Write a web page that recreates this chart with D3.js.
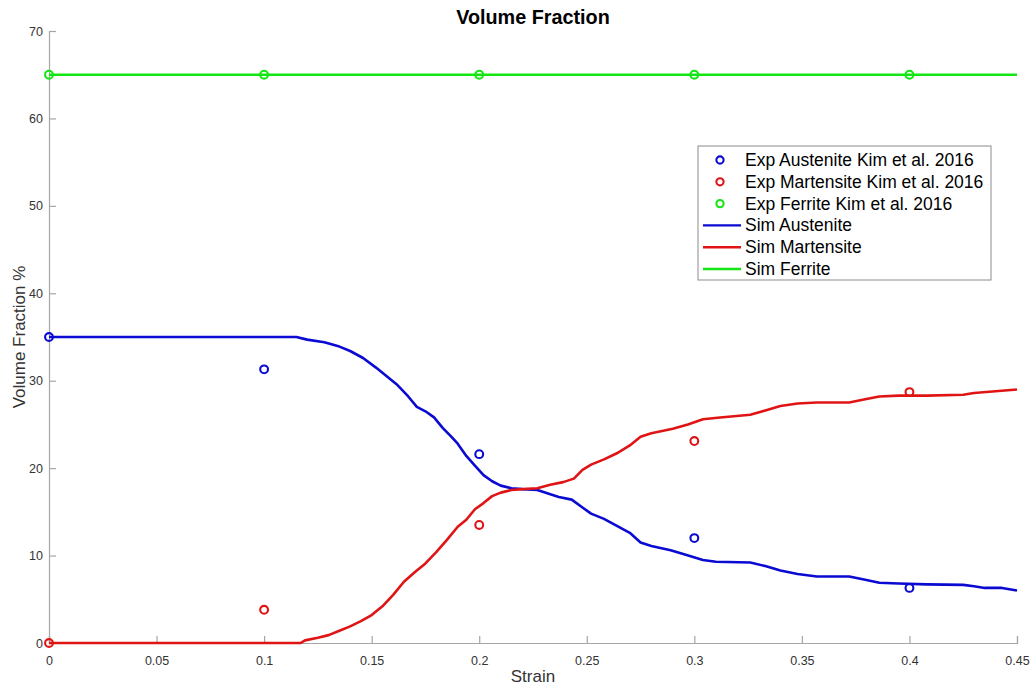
<!DOCTYPE html>
<html>
<head>
<meta charset="utf-8">
<script src="https://cdn.jsdelivr.net/npm/d3@7"></script>
<style>
  html, body { margin: 0; padding: 0; background: #fff; }
  svg { display: block; font-family: "Liberation Sans", Arial, Helvetica, sans-serif; }
</style>
</head>
<body>
<svg id="chart" width="1034" height="687"></svg>
<script>
// Experimental measurements (Kim et al. 2016)
const expStrain = [0, 0.1, 0.2, 0.3, 0.4];
const expAustenite = [35, 31.3, 21.6, 12.0, 6.3];
const expMartensite = [0, 3.8, 13.5, 23.1, 28.7];
const expFerrite = [65, 65, 65, 65, 65];

// Simulated phase fractions
const simAustenite = [
  [0, 35], [0.115, 35], [0.12, 34.7], [0.128, 34.4], [0.135, 33.9], [0.14, 33.4],
  [0.146, 32.6], [0.152, 31.5], [0.157, 30.5], [0.162, 29.5], [0.167, 28.2],
  [0.171, 27.0], [0.175, 26.5], [0.179, 25.8], [0.183, 24.6], [0.187, 23.6],
  [0.19, 22.8], [0.194, 21.4], [0.198, 20.3], [0.202, 19.2], [0.206, 18.5],
  [0.21, 18.0], [0.215, 17.7], [0.22, 17.6], [0.227, 17.5], [0.232, 17.1],
  [0.237, 16.7], [0.243, 16.4], [0.248, 15.5], [0.252, 14.8], [0.258, 14.2],
  [0.264, 13.4], [0.27, 12.6], [0.275, 11.5], [0.28, 11.1], [0.289, 10.6],
  [0.296, 10.1], [0.304, 9.5], [0.31, 9.3], [0.326, 9.2], [0.333, 8.8],
  [0.34, 8.3], [0.348, 7.9], [0.357, 7.6], [0.372, 7.6], [0.38, 7.2],
  [0.386, 6.9], [0.395, 6.8], [0.408, 6.7], [0.425, 6.65], [0.43, 6.5],
  [0.435, 6.3], [0.443, 6.3], [0.45, 6.0]
];
const simMartensite = [
  [0, 0], [0.117, 0], [0.119, 0.3], [0.125, 0.6], [0.13, 0.9], [0.135, 1.4],
  [0.14, 1.9], [0.145, 2.5], [0.15, 3.2], [0.155, 4.2], [0.16, 5.5], [0.165, 7.0],
  [0.17, 8.1], [0.175, 9.1], [0.18, 10.4], [0.185, 11.8], [0.19, 13.3],
  [0.194, 14.1], [0.198, 15.3], [0.202, 16.0], [0.206, 16.8], [0.21, 17.2],
  [0.215, 17.5], [0.22, 17.6], [0.227, 17.7], [0.233, 18.1], [0.239, 18.4],
  [0.244, 18.8], [0.248, 19.8], [0.252, 20.4], [0.258, 21.0], [0.264, 21.7],
  [0.27, 22.6], [0.275, 23.6], [0.28, 24.0], [0.29, 24.5], [0.297, 25.0],
  [0.304, 25.6], [0.312, 25.8], [0.326, 26.1], [0.333, 26.6], [0.34, 27.1],
  [0.348, 27.4], [0.357, 27.5], [0.372, 27.5], [0.38, 27.9], [0.386, 28.2],
  [0.395, 28.3], [0.408, 28.3], [0.425, 28.4], [0.43, 28.6], [0.44, 28.8],
  [0.45, 29.0]
];
const simFerrite = [[0, 65], [0.45, 65]];

const xTicks = [0, 0.05, 0.1, 0.15, 0.2, 0.25, 0.3, 0.35, 0.4, 0.45];
const yTicks = [0, 10, 20, 30, 40, 50, 60, 70];

const legendLabels = [
  "Exp Austenite Kim et al. 2016",
  "Exp Martensite Kim et al. 2016",
  "Exp Ferrite Kim et al. 2016",
  "Sim Austenite",
  "Sim Martensite",
  "Sim Ferrite"
];

const BLUE = "#0a0ad2", RED = "#e01414", GREEN = "#14e614";

const svg = d3.select("#chart");
const margin = { left: 49, right: 17, top: 31, bottom: 44 };
const W = 1034, H = 687;

const x = d3.scaleLinear().domain([0, 0.45]).range([margin.left, W - margin.right]);
const y = d3.scaleLinear().domain([0, 70]).range([H - margin.bottom, margin.top]);

const axisColor = "#a6a6a6";
const textColor = "#333333";

// Axes with inward-pointing ticks
const xAxis = svg.append("g")
  .attr("transform", `translate(0,${y(0)})`)
  .call(d3.axisBottom(x).tickValues(xTicks).tickSize(-7).tickPadding(13)
    .tickFormat(d => d3.format("")(+d.toFixed(2))));
const yAxis = svg.append("g")
  .attr("transform", `translate(${x(0)},0)`)
  .call(d3.axisLeft(y).tickValues(yTicks).tickSize(-7).tickPadding(12));

[xAxis, yAxis].forEach(a => {
  a.select(".domain").attr("stroke", axisColor).attr("stroke-width", 1.2);
  a.selectAll(".tick line").attr("stroke", axisColor).attr("stroke-width", 1.2);
  a.selectAll(".tick text").attr("fill", textColor).attr("font-size", 12.5);
});
yAxis.selectAll(".tick text").attr("x", -6);

// Simulated curves
const line = d3.line().x(d => x(d[0])).y(d => y(d[1]));
const series = [
  { data: simFerrite, color: GREEN },
  { data: simAustenite, color: BLUE },
  { data: simMartensite, color: RED }
];
series.forEach(s => {
  svg.append("path").datum(s.data)
    .attr("d", line).attr("fill", "none")
    .attr("stroke", s.color).attr("stroke-width", 2.6)
    .attr("stroke-linejoin", "round");
});

// Experimental markers
const exps = [
  { vals: expAustenite, color: BLUE },
  { vals: expMartensite, color: RED },
  { vals: expFerrite, color: GREEN }
];
exps.forEach(e => {
  svg.append("g").selectAll("circle")
    .data(expStrain.map((s, i) => [s, e.vals[i]]))
    .join("circle")
    .attr("cx", d => x(d[0])).attr("cy", d => y(d[1]))
    .attr("r", 3.9).attr("fill", "none")
    .attr("stroke", e.color).attr("stroke-width", 2.1);
});

// Title and axis labels
svg.append("text").attr("x", 533).attr("y", 24)
  .attr("text-anchor", "middle").attr("font-size", 19.8).attr("font-weight", "bold")
  .attr("fill", "#000").text("Volume Fraction");
svg.append("text").attr("x", x(0.225)).attr("y", 682)
  .attr("text-anchor", "middle").attr("font-size", 17).attr("fill", textColor)
  .text("Strain");
svg.append("text")
  .attr("transform", `translate(25,${y(35)}) rotate(-90)`)
  .attr("text-anchor", "middle").attr("font-size", 17).attr("fill", textColor)
  .text("Volume Fraction %");

// Legend
const lg = svg.append("g").attr("transform", "translate(698,146)");
lg.append("rect").attr("width", 293).attr("height", 134)
  .attr("fill", "#fff").attr("stroke", "#8c8c8c").attr("stroke-width", 1);
const legendColors = [BLUE, RED, GREEN, BLUE, RED, GREEN];
legendLabels.forEach((lab, i) => {
  const cy = 14 + i * 21.8;
  if (i < 3) {
    lg.append("circle").attr("cx", 22).attr("cy", cy).attr("r", 3.6)
      .attr("fill", "none").attr("stroke", legendColors[i]).attr("stroke-width", 2.1);
  } else {
    lg.append("line").attr("x1", 5).attr("x2", 43).attr("y1", cy).attr("y2", cy)
      .attr("stroke", legendColors[i]).attr("stroke-width", 2.4);
  }
  lg.append("text").attr("x", 47).attr("y", cy + 6)
    .attr("font-size", 17.5).attr("fill", "#000").text(lab);
});
</script>
</body>
</html>
